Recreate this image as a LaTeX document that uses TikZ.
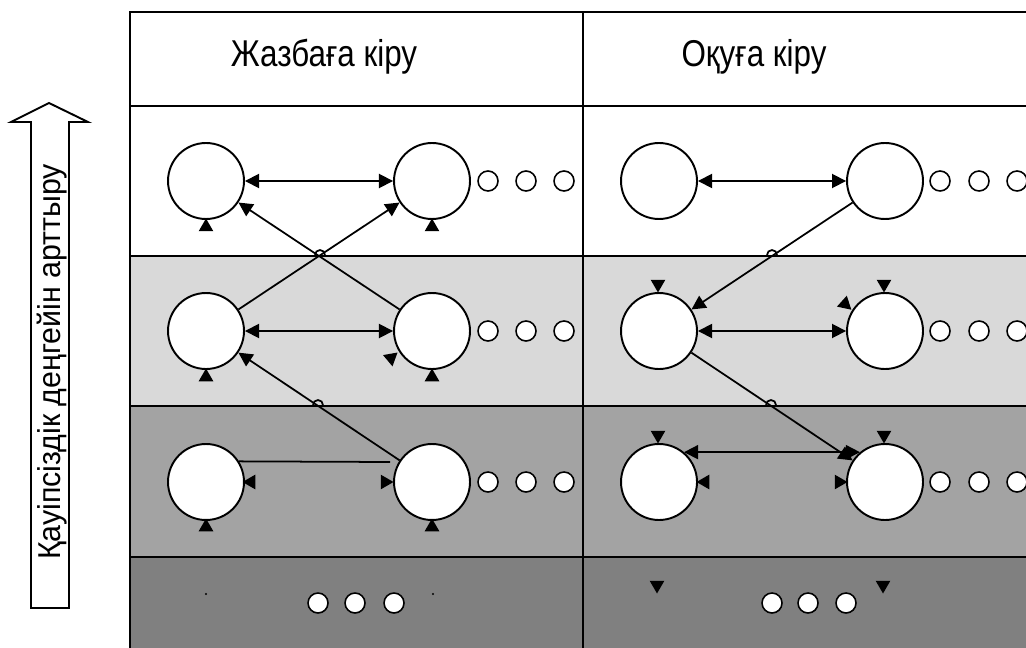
\documentclass[tikz,border=0pt]{standalone}
\usepackage{fontspec}
\setmainfont{Liberation Sans}
\usepackage{tikz}
\usetikzlibrary{positioning}
\usetikzlibrary{arrows.meta,shapes.geometric}

\definecolor{bandA}{RGB}{217,217,217}
\definecolor{bandB}{RGB}{163,163,163}
\definecolor{bandC}{RGB}{128,128,128}

\newcommand{\tall}[1]{\scalebox{1.05}[1.25]{#1}}

\begin{document}
\begin{tikzpicture}[x=0.02cm,y=-0.02cm,
	state/.style={circle,draw,line width=1.1pt,fill=white,minimum size=1.52cm,inner sep=0pt},
	dot/.style={circle,draw,line width=0.9pt,fill=white,minimum size=0.4cm,inner sep=0pt},
	tipm/.style={regular polygon,regular polygon sides=3,fill,inner sep=0pt,minimum size=0.34cm},
	link/.style={line width=1pt,-{Triangle[length=8pt,width=8pt]}},
	both/.style={line width=1pt,{Triangle[length=8pt,width=8pt]}-{Triangle[length=8pt,width=8pt]}},
	txt/.style={font=\fontsize{17pt}{20pt}\selectfont}]

	\useasboundingbox (0,0) rectangle (1026,648);

	%Bands
	\fill[white] (130,12) rectangle (1026,256);
	\fill[bandA] (130,256) rectangle (1026,406);
	\fill[bandB] (130,406) rectangle (1026,557);
	\fill[bandC] (130,557) rectangle (1026,648);

	%Grid
	\draw[line width=1.4pt] (1026,12) -- (130,12) -- (130,648);
	\draw[line width=1.4pt] (583,12) -- (583,648);
	\foreach \y in {106,256,406,557}
		\draw[line width=1.4pt] (130,\y) -- (1026,\y);

	%Headers
	\node[txt] (hdW) at (324,57) {\tall{Жазбаға кіру}};
	\node[txt] (hdR) at (754,57) {\tall{Оқуға кіру}};

	%Level arrow
	\draw[line width=1.1pt,fill=white] (31,608) -- (31,122) -- (11,122) -- (49,103)
		-- (88,122) -- (69,122) -- (69,608) -- cycle;
	\node[font=\fontsize{18pt}{20pt}\selectfont,rotate=90,anchor=base,inner sep=0pt] (lvl)
		at (60,362) {\scalebox{0.96}[1]{Қауіпсіздік деңгейін арттыру}};

	%Vertices
	\foreach \y [count=\i] in {181,331,482} {
		\node[state] (Wa\i) at (206,\y) {};
		\node[state] (Wb\i) at (432,\y) {};
		\node[state] (Ra\i) at (659,\y) {};
		\node[state] (Rb\i) at (885,\y) {};
		\foreach \x [count=\j] in {488,526,564}
			\node[dot] (dW\i\j) at (\x,\y) {};
		\foreach \x [count=\j] in {940,979,1017}
			\node[dot] (dR\i\j) at (\x,\y) {};
	}
	\foreach \x [count=\j] in {318,355,394}
		\node[dot] (dW4\j) at (\x,603) {};
	\foreach \x [count=\j] in {772,808,846}
		\node[dot] (dR4\j) at (\x,603) {};

	%Write side
	\draw[both] (Wa1) -- (Wb1);
	\draw[both] (Wa2) -- (Wb2);
	\draw[link] (Wa2) -- (Wb1);
	\draw[link] (Wb2) -- (Wa1);
	\draw[link] (Wb3) -- (Wa2);
	\coordinate (Wcut) at (390,462);
	\draw[line width=1pt] (Wa3.32) -- (Wcut);

	%Read side
	\draw[both] (Ra1) -- (Rb1);
	\draw[both] (Ra2) -- (Rb2);
	\draw[link] (Rb1) -- (Ra2);
	\draw[link] (Ra2) -- (Rb3);
	\draw[both] (Ra3.50) -- (Rb3.130);

	%Hops
	\foreach \x/\y in {320/255,318/405,772/255,771/405}
		\draw[line width=1pt] (\x,\y) ++(-5,0) arc[start angle=180,end angle=0,radius=0.1cm];

	%Small tips, write side
	\foreach \x/\y [count=\k] in {206/227,432/227,206/377,432/377,206/527,432/527}
		\node[tipm] (tW\k) at (\x,\y) {};
	\node[tipm,rotate=190] (tW7) at (391,358) {};
	\node[tipm,rotate=90] (tW8) at (251,482) {};
	\node[tipm,rotate=-90] (tW9) at (385,482) {};
	\fill (206,594) circle (0.6pt);
	\fill (433,594) circle (0.6pt);

	%Small tips, read side
	\foreach \x/\y [count=\k] in {658/284,884/284,658/435,884/435,657/585,883/585}
		\node[tipm,rotate=180] (tR\k) at (\x,\y) {};
	\node[tipm,rotate=-12] (tR7) at (845,304) {};
	\node[tipm,rotate=90] (tR8) at (705,482) {};
	\node[tipm,rotate=-90] (tR9) at (839,482) {};

\end{tikzpicture}
\end{document}
